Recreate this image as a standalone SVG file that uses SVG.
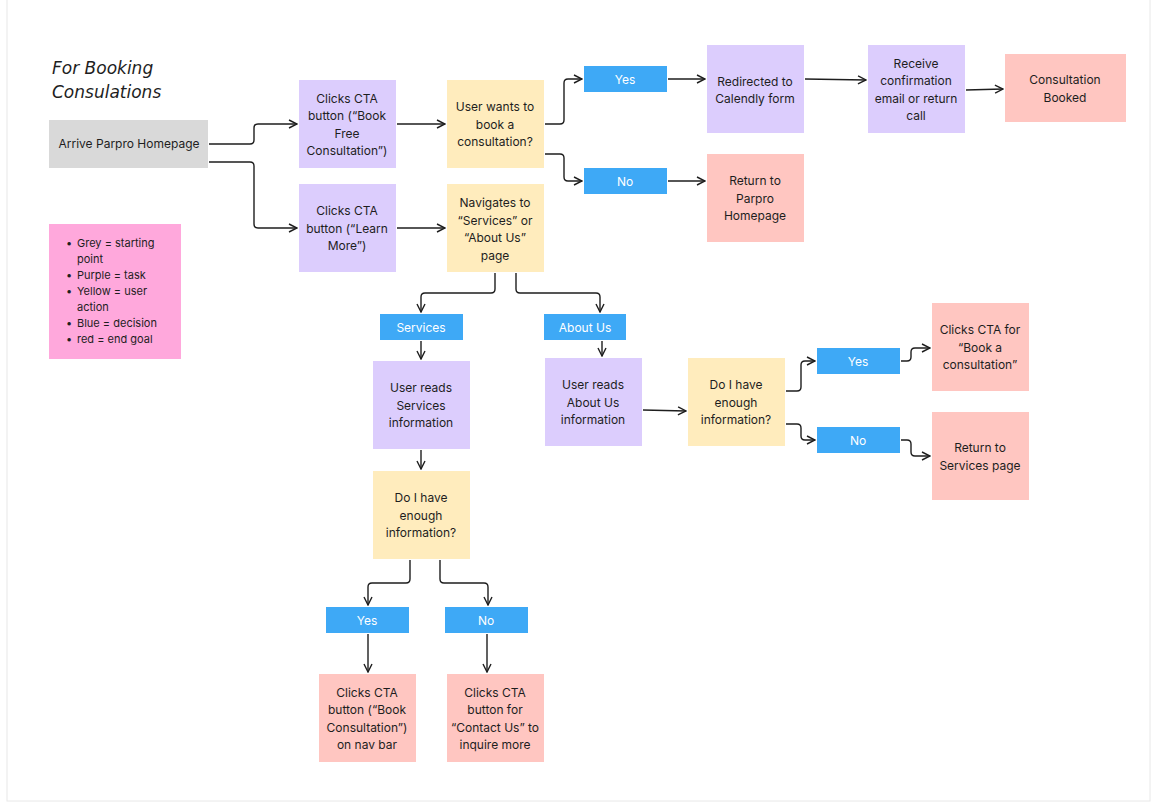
<svg xmlns="http://www.w3.org/2000/svg" width="1157" height="804" viewBox="0 0 1157 804">
<defs>
<marker id="ar" viewBox="0 0 10 10" refX="9" refY="5" markerWidth="10" markerHeight="10" markerUnits="userSpaceOnUse" orient="auto"><path d="M1,1 L9,5 L1,9" fill="none" stroke="#1e1e1e" stroke-width="1.4"/></marker>
</defs>
<style>
text{font-family:Inter,"Liberation Sans",sans-serif;font-size:12px;fill:#1e1e1e;text-anchor:middle}
.g{fill:#d9d9d9}.p{fill:#dccdfd}.y{fill:#ffecbd}.b{fill:#3ea9f6}.r{fill:#ffc6c1}.k{fill:#ffa8dc}
.b + text{fill:#fff}
.c path{fill:none;stroke:#1e1e1e;stroke-width:1.4;marker-end:url(#ar)}
</style>
<rect x="0" y="0" width="1157" height="804" fill="#fff"/>
<rect x="7" y="-2" width="1143" height="803" fill="none" stroke="#e8e8e8"/>
<text x="52" y="74" style="font-family:'DejaVu Sans',sans-serif;font-style:italic;font-size:17px;text-anchor:start">For Booking</text>
<text x="52" y="98" style="font-family:'DejaVu Sans',sans-serif;font-style:italic;font-size:17px;text-anchor:start">Consulations</text>

<g id="arrive"><rect class="g" x="49" y="120" width="159" height="48"/><text x="129" y="148">Arrive Parpro Homepage</text></g>
<g id="legend"><rect class="k" x="49" y="224" width="132" height="135"/>
<text style="text-anchor:start;font-size:11px"><tspan x="66" y="247">•</tspan><tspan x="77" y="247">Grey = starting</tspan><tspan x="77" y="263">point</tspan><tspan x="66" y="279">•</tspan><tspan x="77" y="279">Purple = task</tspan><tspan x="66" y="295">•</tspan><tspan x="77" y="295">Yellow = user</tspan><tspan x="77" y="311">action</tspan><tspan x="66" y="327">•</tspan><tspan x="77" y="327">Blue = decision</tspan><tspan x="66" y="343">•</tspan><tspan x="77" y="343">red = end goal</tspan></text></g>
<g id="cta1"><rect class="p" x="299" y="80" width="97" height="88"/><text><tspan x="347" y="103">Clicks CTA</tspan><tspan x="347" y="120">button (“Book</tspan><tspan x="347" y="138">Free</tspan><tspan x="347" y="155">Consultation”)</tspan></text></g>
<g id="cta2"><rect class="p" x="299" y="184" width="97" height="88"/><text><tspan x="347" y="215">Clicks CTA</tspan><tspan x="347" y="233">button (“Learn</tspan><tspan x="347" y="250">More”)</tspan></text></g>
<g id="wants"><rect class="y" x="447" y="80" width="97" height="88"/><text><tspan x="495" y="111">User wants to</tspan><tspan x="495" y="129">book a</tspan><tspan x="495" y="146">consultation?</tspan></text></g>
<g id="nav"><rect class="y" x="447" y="184" width="97" height="88"/><text><tspan x="495" y="207">Navigates to</tspan><tspan x="495" y="225">“Services” or</tspan><tspan x="495" y="242">“About Us”</tspan><tspan x="495" y="260">page</tspan></text></g>
<g id="yes1"><rect class="b" x="584" y="66" width="83" height="26"/><text x="625" y="84">Yes</text></g>
<g id="no1"><rect class="b" x="584" y="168" width="83" height="26"/><text x="625" y="186">No</text></g>
<g id="redir"><rect class="p" x="707" y="45" width="97" height="88"/><text><tspan x="755" y="86">Redirected to</tspan><tspan x="755" y="103">Calendly form</tspan></text></g>
<g id="ret1"><rect class="r" x="707" y="154" width="97" height="88"/><text><tspan x="755" y="185">Return to</tspan><tspan x="755" y="203">Parpro</tspan><tspan x="755" y="220">Homepage</tspan></text></g>
<g id="recv"><rect class="p" x="868" y="45" width="97" height="88"/><text><tspan x="916" y="68">Receive</tspan><tspan x="916" y="85">confirmation</tspan><tspan x="916" y="103">email or return</tspan><tspan x="916" y="120">call</tspan></text></g>
<g id="booked"><rect class="r" x="1005" y="54" width="121" height="68"/><text><tspan x="1065" y="84">Consultation</tspan><tspan x="1065" y="102">Booked</tspan></text></g>
<g id="svc"><rect class="b" x="380" y="314" width="83" height="26"/><text x="421" y="332">Services</text></g>
<g id="about"><rect class="b" x="544" y="314" width="82" height="26"/><text x="585" y="332">About Us</text></g>
<g id="readsvc"><rect class="p" x="373" y="361" width="97" height="88"/><text><tspan x="421" y="392">User reads</tspan><tspan x="421" y="410">Services</tspan><tspan x="421" y="427">information</tspan></text></g>
<g id="readab"><rect class="p" x="545" y="358" width="97" height="88"/><text><tspan x="593" y="389">User reads</tspan><tspan x="593" y="407">About Us</tspan><tspan x="593" y="424">information</tspan></text></g>
<g id="enough2"><rect class="y" x="688" y="358" width="97" height="88"/><text><tspan x="736" y="389">Do I have</tspan><tspan x="736" y="407">enough</tspan><tspan x="736" y="424">information?</tspan></text></g>
<g id="yes2"><rect class="b" x="817" y="348" width="83" height="26"/><text x="858" y="366">Yes</text></g>
<g id="no2"><rect class="b" x="817" y="427" width="83" height="26"/><text x="858" y="445">No</text></g>
<g id="ctafor"><rect class="r" x="932" y="303" width="97" height="88"/><text><tspan x="980" y="334">Clicks CTA for</tspan><tspan x="980" y="352">“Book a</tspan><tspan x="980" y="369">consultation”</tspan></text></g>
<g id="retsvc"><rect class="r" x="932" y="412" width="97" height="88"/><text><tspan x="980" y="452">Return to</tspan><tspan x="980" y="470">Services page</tspan></text></g>
<g id="enough1"><rect class="y" x="373" y="471" width="97" height="88"/><text><tspan x="421" y="502">Do I have</tspan><tspan x="421" y="520">enough</tspan><tspan x="421" y="537">information?</tspan></text></g>
<g id="yes3"><rect class="b" x="326" y="607" width="83" height="26"/><text x="367" y="625">Yes</text></g>
<g id="no3"><rect class="b" x="445" y="607" width="83" height="26"/><text x="486" y="625">No</text></g>
<g id="navbar"><rect class="r" x="319" y="674" width="97" height="88"/><text><tspan x="367" y="697">Clicks CTA</tspan><tspan x="367" y="714">button (“Book</tspan><tspan x="367" y="732">Consultation”)</tspan><tspan x="367" y="749">on nav bar</tspan></text></g>
<g id="contact"><rect class="r" x="447" y="674" width="97" height="88"/><text><tspan x="495" y="697">Clicks CTA</tspan><tspan x="495" y="714">button for</tspan><tspan x="495" y="732">“Contact Us” to</tspan><tspan x="495" y="749">inquire more</tspan></text></g>

<g class="c">
<path d="M209,144 H250 Q254,144 254,140 V128 Q254,124 258,124 H297"/>
<path d="M209,162 H250 Q254,162 254,166 V224 Q254,228 258,228 H297"/>
<path d="M397,124 H445"/>
<path d="M397,228 H445"/>
<path d="M545,124 H560 Q564,124 564,120 V83 Q564,79 568,79 H582"/>
<path d="M545,154 H560 Q564,154 564,158 V177 Q564,181 568,181 H582"/>
<path d="M668,79 H705"/>
<path d="M668,181 H705"/>
<path d="M805,79 L866,80"/>
<path d="M966,90 L1003,89"/>
<path d="M495,273 V289 Q495,293 491,293 H425 Q421,293 421,297 V312"/>
<path d="M516,273 V289 Q516,293 520,293 H596 Q600,293 600,297 V312"/>
<path d="M421,341 V359"/>
<path d="M602,341 V356"/>
<path d="M421,450 V469"/>
<path d="M643,410 L686,411"/>
<path d="M786,391 H797 Q801,391 801,387 V365 Q801,361 805,361 H815"/>
<path d="M786,424 H797 Q801,424 801,428 V436 Q801,440 805,440 H815"/>
<path d="M901,361 H907 Q911,361 911,357 V352 Q911,348 915,348 H930"/>
<path d="M901,440 H907 Q911,440 911,444 V452 Q911,456 915,456 H930"/>
<path d="M410,560 V579 Q410,583 406,583 H372 Q368,583 368,587 V605"/>
<path d="M440,560 V579 Q440,583 444,583 H484 Q488,583 488,587 V605"/>
<path d="M368,634 V672"/>
<path d="M487,634 V672"/>
</g>
</svg>
